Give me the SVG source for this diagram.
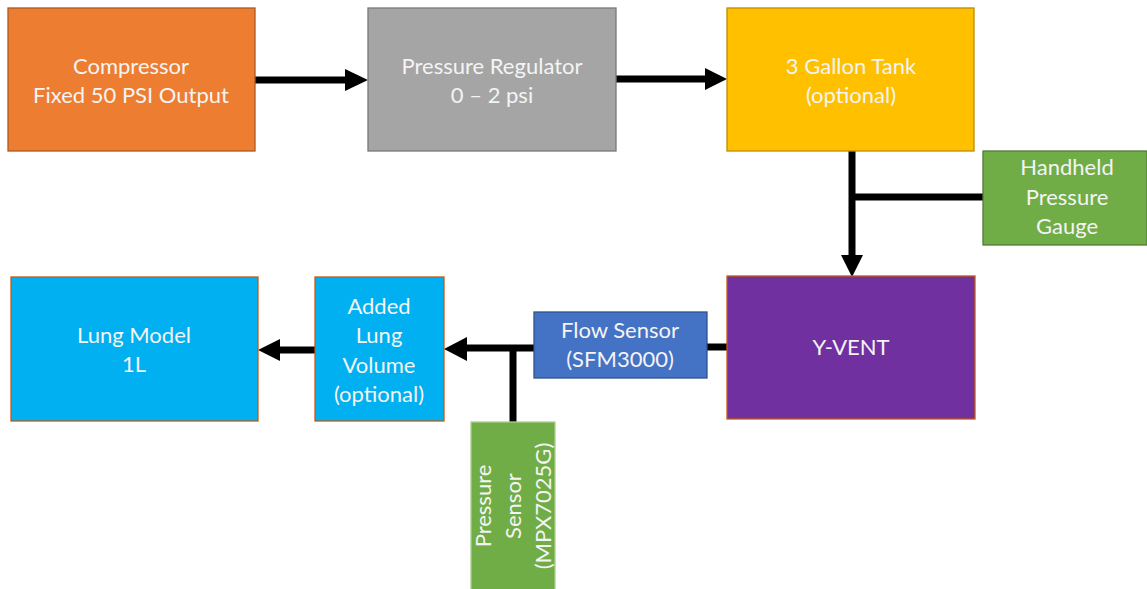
<svg xmlns="http://www.w3.org/2000/svg" width="1147" height="589" viewBox="0 0 1147 589">
  <style>
    .box { stroke-width: 1.3; }
    .lbl { font-family: Lato, "Open Sans", "Liberation Sans", sans-serif; font-size: 22px; fill: #F4F4F4; text-anchor: middle; }
    .pipe { stroke: #000; stroke-width: 7; fill: none; }
    .head { fill: #000; }
  </style>
  <rect width="1147" height="589" fill="#FFFFFF"/>

  <!-- connectors -->
  <g id="connectors">
    <!-- compressor -> regulator -->
    <line class="pipe" x1="255" y1="80" x2="348" y2="80"/>
    <polygon class="head" points="345,69 368,80 345,91"/>
    <!-- regulator -> tank -->
    <line class="pipe" x1="616" y1="79" x2="708" y2="79"/>
    <polygon class="head" points="705,68 727,79 705,90"/>
    <!-- tank -> Y-VENT, with gauge tee -->
    <line class="pipe" x1="852" y1="151" x2="852" y2="258"/>
    <line class="pipe" x1="852" y1="197" x2="983" y2="197"/>
    <polygon class="head" points="841,255 852,277 863,255"/>
    <!-- Y-VENT -> flow sensor -->
    <line class="pipe" x1="706" y1="347" x2="727" y2="347"/>
    <!-- flow sensor -> added lung volume, with pressure sensor tee -->
    <line class="pipe" x1="534" y1="348" x2="464" y2="348"/>
    <polygon class="head" points="467,337 444,349 467,361"/>
    <line class="pipe" x1="513" y1="348" x2="513" y2="422"/>
    <!-- added lung volume -> lung model -->
    <line class="pipe" x1="315" y1="350" x2="277" y2="350"/>
    <polygon class="head" points="280,339 258,350 280,361"/>
  </g>

  <g id="compressor">
    <rect class="box" x="8" y="8" width="247" height="143" fill="#ED7D31" stroke="#AE5A21"/>
    <text class="lbl" x="131" y="74">Compressor</text>
    <text class="lbl" x="131" y="103">Fixed 50 PSI Output</text>
  </g>

  <g id="regulator">
    <rect class="box" x="368" y="8" width="248" height="143" fill="#A5A5A5" stroke="#787878"/>
    <text class="lbl" x="492" y="74">Pressure Regulator</text>
    <text class="lbl" x="492" y="103">0 – 2 psi</text>
  </g>

  <g id="tank">
    <rect class="box" x="727" y="8" width="247" height="143" fill="#FFC000" stroke="#BC8C00"/>
    <text class="lbl" x="851" y="74">3 Gallon Tank</text>
    <text class="lbl" x="851" y="103">(optional)</text>
  </g>

  <g id="gauge">
    <rect class="box" x="983" y="151" width="164" height="94" fill="#70AD47" stroke="#507E32"/>
    <text class="lbl" x="1067" y="175">Handheld</text>
    <text class="lbl" x="1067" y="205">Pressure</text>
    <text class="lbl" x="1067" y="234">Gauge</text>
  </g>

  <g id="yvent">
    <rect class="box" x="727" y="276" width="248" height="143" fill="#7030A0" stroke="#C55A11"/>
    <text class="lbl" x="851" y="355">Y-VENT</text>
  </g>

  <g id="flow-sensor">
    <rect class="box" x="534" y="312" width="173" height="66" fill="#4472C4" stroke="#2F528F"/>
    <text class="lbl" x="620" y="338">Flow Sensor</text>
    <text class="lbl" x="620" y="367">(SFM3000)</text>
  </g>

  <g id="pressure-sensor">
    <rect class="box" x="471" y="422" width="84" height="170" fill="#70AD47" stroke="#A9D18E"/>
    <g transform="translate(513,506) rotate(-90)">
      <text class="lbl" x="0" y="-22">Pressure</text>
      <text class="lbl" x="0" y="8">Sensor</text>
      <text class="lbl" x="0" y="38">(MPX7025G)</text>
    </g>
  </g>

  <g id="added-volume">
    <rect class="box" x="315" y="277" width="129" height="144" fill="#00B0F0" stroke="#C55A11"/>
    <text class="lbl" x="379" y="314">Added</text>
    <text class="lbl" x="379" y="343">Lung</text>
    <text class="lbl" x="379" y="373">Volume</text>
    <text class="lbl" x="379" y="402">(optional)</text>
  </g>

  <g id="lung-model">
    <rect class="box" x="11" y="277" width="247" height="144" fill="#00B0F0" stroke="#C55A11"/>
    <text class="lbl" x="134" y="343">Lung Model</text>
    <text class="lbl" x="134" y="372">1L</text>
  </g>
</svg>
